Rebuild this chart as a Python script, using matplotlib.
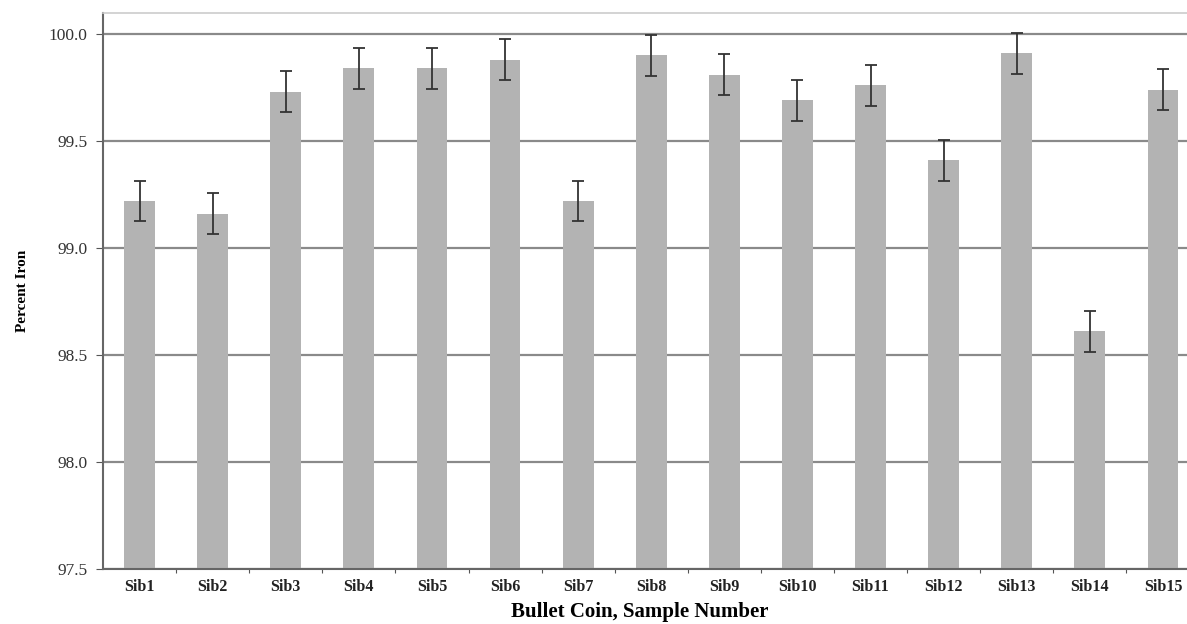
import numpy as np
import matplotlib
matplotlib.use("Agg")
import matplotlib.pyplot as plt

# Sample labels and mean percent iron
samples = ["Sib1", "Sib2", "Sib3", "Sib4", "Sib5", "Sib6", "Sib7", "Sib8",
           "Sib9", "Sib10", "Sib11", "Sib12", "Sib13", "Sib14", "Sib15"]
iron = [99.22, 99.16, 99.73, 99.84, 99.84, 99.88, 99.22, 99.90,
        99.81, 99.69, 99.76, 99.41, 99.91, 98.61, 99.74]
iron_err = [0.095] * len(samples)
y_ticks = [97.5, 98.0, 98.5, 99.0, 99.5, 100.0]

plt.rcParams['font.family'] = ['Liberation Serif', 'DejaVu Serif']

fig = plt.figure(figsize=(11.87, 6.24), dpi=100)
# axes runs a little past the right edge, like the cropped original
ax = fig.add_axes([103 / 1187, 55 / 624, 1096.5 / 1187, 556 / 624])

x = np.arange(len(samples))
ax.bar(x, iron, width=0.42, color="#b3b3b3", zorder=2)
ax.errorbar(x, iron, yerr=iron_err, fmt="none", ecolor="#333333",
            elinewidth=1.3, capsize=4, capthick=1.3, zorder=3)

ax.set_ylim(97.5, 100.098)
ax.set_xlim(-0.5, 14.5)
ax.set_yticks(y_ticks)
ax.set_yticklabels([f"{v:.1f}" for v in y_ticks], fontsize=12.5, color="#333333")
ax.yaxis.grid(True, color="#8a8a8a", linewidth=1.6, zorder=0)
ax.set_axisbelow(True)

# category ticks sit between bars, labels centred under bars
ax.set_xticks(x + 0.5)
ax.set_xticklabels([])
ax.set_xticks(x, minor=True)
ax.set_xticklabels(samples, minor=True, fontsize=11.5, fontweight="bold", color="#222222")
ax.tick_params(axis="x", which="minor", length=0, pad=7)
ax.tick_params(axis="x", which="major", length=3, direction="out", color="#555555")
ax.tick_params(axis="y", length=5, direction="out", color="#555555", pad=6)

for side in ["left", "bottom"]:
    ax.spines[side].set_color("#666666")
    ax.spines[side].set_linewidth(1.5)
ax.spines["top"].set_color("#cccccc")
ax.spines["top"].set_linewidth(1.2)
ax.spines["right"].set_visible(False)

ax.set_ylabel("Percent Iron", fontsize=11, fontweight="bold", labelpad=14)
fig.text(640 / 1187, 1 - 612 / 624, "Bullet Coin, Sample Number",
         ha="center", va="center", fontsize=15, fontweight="bold")

fig.savefig("out.png", dpi=100)
